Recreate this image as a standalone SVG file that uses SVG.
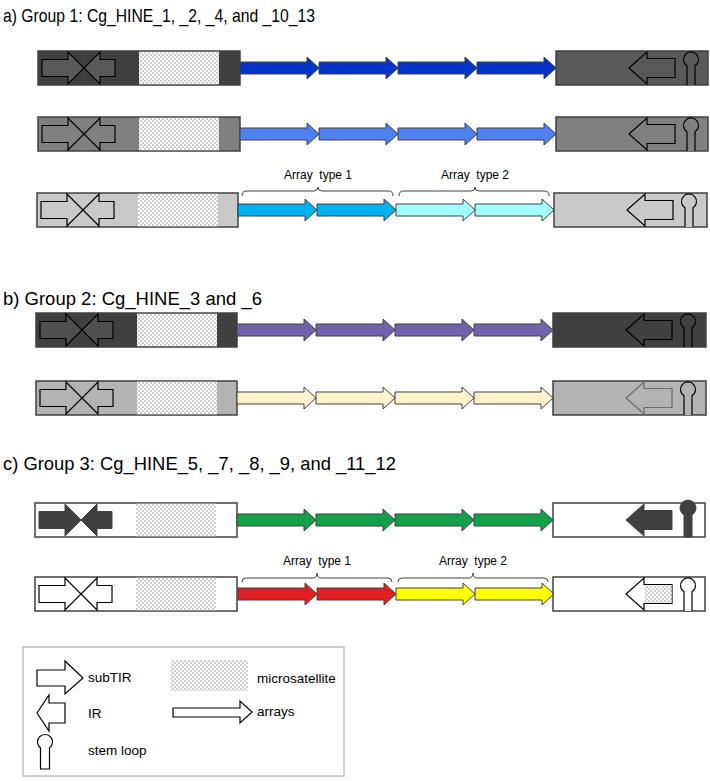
<svg xmlns="http://www.w3.org/2000/svg" xmlns:xlink="http://www.w3.org/1999/xlink" width="710" height="781" viewBox="0 0 710 781">
<style>
text{font-family:"Liberation Sans",Arial,sans-serif;fill:#000}
.title{font-size:19px}
.lab{font-size:12px;white-space:pre}
.leg{font-size:13.5px}
.box{stroke:#404040;stroke-width:1.5}
.arr{stroke:#404040;stroke-width:1}
.sym{stroke:#000;stroke-width:1.2}
.brace{fill:none;stroke:#404040;stroke-width:1}
</style>
<defs>
<pattern id="dots" width="4" height="4" patternUnits="userSpaceOnUse">
<rect width="4" height="4" fill="#fff"/>
<circle cx="1" cy="1" r="0.65" fill="#6f6f6f"/>
<circle cx="3" cy="3" r="0.65" fill="#6f6f6f"/>
</pattern>
<path id="arr" d="M0,-6 H67 V-11 L79,0 L67,11 V6 H0 Z"/>
<path id="cross" d="M4,-8.5 H30 V-16 L46,0 L30,16 V8.5 H4 Z M77,-8.5 H62 V-16 L46,0 L62,16 V8.5 H77 Z"/>
<path id="ir" d="M73,0 L91,-16 V-9.5 H119 V9.5 H91 V16 Z"/>
<path id="stem" d="M131,17 V-2.2 A7.5,7.5 0 1 1 139,-2.2 V17"/>
</defs>

<text class="title" x="3" y="22" textLength="312" lengthAdjust="spacingAndGlyphs">a) Group 1: Cg_HINE_1, _2, _4, and _10_13</text>
<text class="title" x="3" y="305" textLength="259" lengthAdjust="spacingAndGlyphs">b) Group 2: Cg_HINE_3 and _6</text>
<text class="title" x="3" y="470" textLength="393" lengthAdjust="spacingAndGlyphs">c) Group 3: Cg_HINE_5, _7, _8, _9, and _11_12</text>

<!-- Row a1 -->
<g id="a1">
<rect class="box" x="38" y="51" width="202" height="34" fill="#404040"/>
<rect x="139" y="51.7" width="80" height="32.6" fill="url(#dots)"/>
<use href="#cross" x="38" y="68" class="sym" fill="#595959"/>
<use href="#arr" x="240" y="68" class="arr" fill="#0433C8"/>
<use href="#arr" x="319" y="68" class="arr" fill="#0433C8"/>
<use href="#arr" x="398" y="68" class="arr" fill="#0433C8"/>
<use href="#arr" x="477" y="68" class="arr" fill="#0433C8"/>
<rect class="box" x="556" y="51" width="152" height="34" fill="#595959"/>
<use href="#ir" x="556" y="68" class="sym" fill="#595959"/>
<use href="#stem" x="556" y="68" class="sym" fill="#595959"/>
</g>

<!-- Row a2 -->
<g id="a2">
<rect class="box" x="38" y="117" width="202" height="34" fill="#808080"/>
<rect x="139" y="117.7" width="80" height="32.6" fill="url(#dots)"/>
<use href="#cross" x="38" y="134" class="sym" fill="#808080"/>
<use href="#arr" x="240" y="134" class="arr" fill="#4F81F2"/>
<use href="#arr" x="319" y="134" class="arr" fill="#4F81F2"/>
<use href="#arr" x="398" y="134" class="arr" fill="#4F81F2"/>
<use href="#arr" x="477" y="134" class="arr" fill="#4F81F2"/>
<rect class="box" x="556" y="117" width="152" height="34" fill="#808080"/>
<use href="#ir" x="556" y="134" class="sym" fill="#808080"/>
<use href="#stem" x="556" y="134" class="sym" fill="#808080"/>
</g>

<!-- Row a3 -->
<g id="a3">
<rect class="box" x="37" y="193" width="201" height="34" fill="#C9C9C9"/>
<rect x="138" y="193.7" width="80" height="32.6" fill="url(#dots)"/>
<use href="#cross" x="37" y="210" class="sym" fill="#C9C9C9"/>
<use href="#arr" x="238" y="210" class="arr" fill="#00B0F0"/>
<use href="#arr" x="317" y="210" class="arr" fill="#00B0F0"/>
<use href="#arr" x="396" y="210" class="arr" fill="#A3FFFF"/>
<use href="#arr" x="475" y="210" class="arr" fill="#A3FFFF"/>
<rect class="box" x="554" y="193" width="153" height="34" fill="#C9C9C9"/>
<use href="#ir" x="554" y="210" class="sym" fill="#C9C9C9"/>
<use href="#stem" x="554" y="210" class="sym" fill="#C9C9C9"/>
<text class="lab" x="318" y="179" text-anchor="middle">Array  type 1</text>
<text class="lab" x="475" y="179" text-anchor="middle">Array  type 2</text>
</g>

<!-- Row b1 -->
<g id="b1">
<rect class="box" x="36" y="313" width="201" height="34" fill="#404040"/>
<rect x="137" y="313.7" width="80" height="32.6" fill="url(#dots)"/>
<use href="#cross" x="36" y="330" class="sym" fill="#505050"/>
<use href="#arr" x="237" y="330" class="arr" fill="#7262AC"/>
<use href="#arr" x="316" y="330" class="arr" fill="#7262AC"/>
<use href="#arr" x="395" y="330" class="arr" fill="#7262AC"/>
<use href="#arr" x="474" y="330" class="arr" fill="#7262AC"/>
<rect class="box" x="553" y="313" width="153" height="34" fill="#404040"/>
<use href="#ir" x="553" y="330" class="sym" fill="#404040"/>
<use href="#stem" x="553" y="330" class="sym" fill="#404040"/>
</g>

<!-- Row b2 -->
<g id="b2">
<rect class="box" x="36" y="381" width="201" height="34" fill="#B3B3B3"/>
<rect x="137" y="381.7" width="80" height="32.6" fill="url(#dots)"/>
<use href="#cross" x="36" y="398" class="sym" fill="#B3B3B3"/>
<use href="#arr" x="237" y="398" class="arr" fill="#FFF2CC"/>
<use href="#arr" x="316" y="398" class="arr" fill="#FFF2CC"/>
<use href="#arr" x="395" y="398" class="arr" fill="#FFF2CC"/>
<use href="#arr" x="474" y="398" class="arr" fill="#FFF2CC"/>
<rect class="box" x="553" y="381" width="153" height="34" fill="#B3B3B3"/>
<use href="#ir" x="553" y="398" fill="#B3B3B3" stroke="#6b6b6b" stroke-width="1.2"/>
<use href="#stem" x="553" y="398" class="sym" fill="#B3B3B3"/>
</g>

<!-- Row c1 -->
<g id="c1">
<rect class="box" x="35" y="503" width="202" height="34" fill="#fff"/>
<rect x="136" y="503.7" width="80" height="32.6" fill="url(#dots)"/>
<use href="#cross" x="35" y="520" fill="#404040" stroke="#404040" stroke-width="1"/>
<use href="#arr" x="237" y="520" class="arr" fill="#12A04A"/>
<use href="#arr" x="316" y="520" class="arr" fill="#12A04A"/>
<use href="#arr" x="395" y="520" class="arr" fill="#12A04A"/>
<use href="#arr" x="474" y="520" class="arr" fill="#12A04A"/>
<rect class="box" x="553" y="503" width="152" height="34" fill="#fff"/>
<use href="#ir" x="553" y="520" fill="#404040" stroke="#404040" stroke-width="1"/>
<path d="M684,537 V515 A8,8 0 1 1 692,515 V537 Z" fill="#404040" stroke="#404040" stroke-width="1"/>
</g>

<!-- Row c2 -->
<g id="c2">
<rect class="box" x="35" y="577" width="202" height="34" fill="#fff"/>
<rect x="136" y="577.7" width="80" height="32.6" fill="url(#dots)"/>
<use href="#cross" x="35" y="594" class="sym" fill="#fff"/>
<use href="#arr" x="238" y="594" class="arr" fill="#E31E25"/>
<use href="#arr" x="317" y="594" class="arr" fill="#E31E25"/>
<use href="#arr" x="396" y="594" class="arr" fill="#FFFF00"/>
<use href="#arr" x="475" y="594" class="arr" fill="#FFFF00"/>
<rect class="box" x="553" y="577" width="152" height="34" fill="#fff"/>
<use href="#ir" x="553" y="594" class="sym" fill="#fff"/>
<rect x="644.6" y="585.1" width="27" height="17.8" fill="url(#dots)"/>
<use href="#stem" x="553" y="594" class="sym" fill="#fff"/>
<text class="lab" x="317" y="565" text-anchor="middle">Array  type 1</text>
<text class="lab" x="473" y="565" text-anchor="middle">Array  type 2</text>
</g>

<!-- braces -->
<g id="connectors">
<path class="brace" d="M242,196 Q242,191 246,191 H314 Q318,191 318,187 Q318,191 322,191 H389 Q393,191 393,196"/>
<path class="brace" d="M399,196 Q399,191 403,191 H471 Q475,191 475,187 Q475,191 479,191 H545 Q549,191 549,196"/>
<path class="brace" d="M242,582 Q242,578 246,578 H313 Q317,578 317,573 Q317,578 321,578 H388 Q392,578 392,582"/>
<path class="brace" d="M398,582 Q398,578 402,578 H469 Q473,578 473,573 Q473,578 477,578 H544 Q548,578 548,582"/>
</g>

<!-- legend -->
<g id="legend">
<rect x="23" y="647" width="321" height="129" fill="#fff" stroke="#BFBFBF" stroke-width="1.5"/>
<g id="leg-subtir">
<path d="M37,670 H65 V661 L83,678 L65,694 V686 H37 Z" fill="#fff" class="sym"/>
<text class="leg" x="88" y="682">subTIR</text>
</g>
<g id="leg-ir">
<path d="M37,713 L49,695 V703 H65 V723 H49 V731 Z" fill="#fff" class="sym"/>
<text class="leg" x="88" y="718">IR</text>
</g>
<g id="leg-stem">
<path d="M40.5,769 V748 A7.5,7.5 0 1 1 49.5,748 V769 Z" fill="#fff" class="sym"/>
<text class="leg" x="88" y="755">stem loop</text>
</g>
<g id="leg-micro">
<rect x="171" y="660" width="77" height="31" fill="url(#dots)"/>
<text class="leg" x="257" y="683">microsatellite</text>
</g>
<g id="leg-arrays">
<path d="M173,708 H240 V701 L252,712 L240,723 V717 H173 Z" fill="#fff" class="sym"/>
<text class="leg" x="257" y="716">arrays</text>
</g>
</g>
</svg>
